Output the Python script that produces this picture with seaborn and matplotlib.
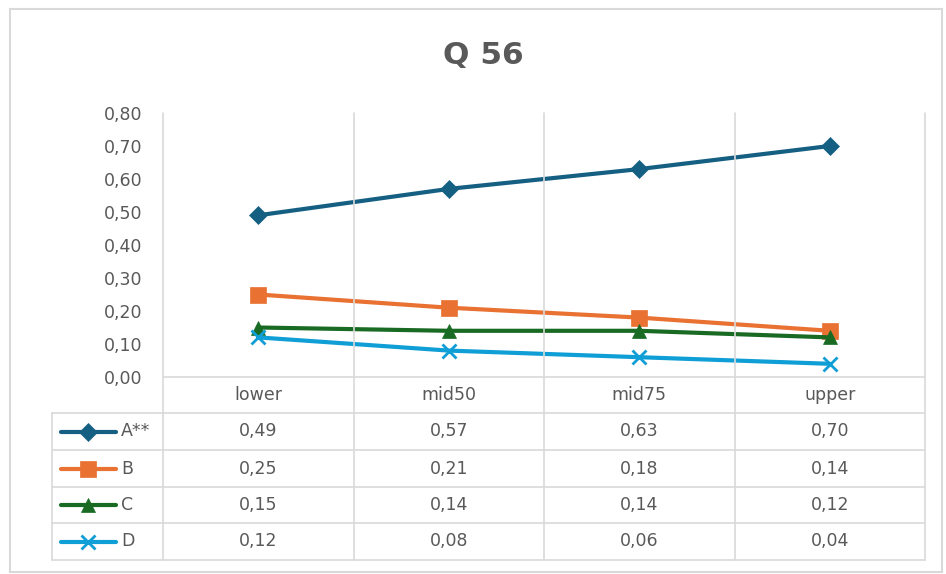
import matplotlib
matplotlib.use("Agg")
import matplotlib.pyplot as plt
import matplotlib.transforms as mtransforms
from matplotlib.lines import Line2D
from matplotlib.patches import Rectangle
import seaborn as sns
import pandas as pd

# ---- data ----
categories = ["lower", "mid50", "mid75", "upper"]
series_names = ["A**", "B", "C", "D"]
a_vals = [0.49, 0.57, 0.63, 0.70]
b_vals = [0.25, 0.21, 0.18, 0.14]
c_vals = [0.15, 0.14, 0.14, 0.12]
d_vals = [0.12, 0.08, 0.06, 0.04]
y_ticks = [0.0, 0.1, 0.2, 0.3, 0.4, 0.5, 0.6, 0.7, 0.8]
title = "Q 56"

all_vals = [a_vals, b_vals, c_vals, d_vals]
colors = ["#156082", "#E97132", "#196B24", "#0F9ED5"]
markers = ["D", "s", "^", "x"]
msizes = [9, 11, 10, 10]

rows = []
for name, vals in zip(series_names, all_vals):
    for cat, v in zip(categories, vals):
        rows.append({"cat": cat, "value": v, "series": name})
df = pd.DataFrame(rows)

sns.set_theme(style="white")
plt.rcParams["font.family"] = ["DejaVu Sans"]
TXT = "#595959"
GRID = "#D9D9D9"
FS = 12.5

W, H = 946, 574
fig = plt.figure(figsize=(W / 100, H / 100), dpi=100)
fig.patch.set_facecolor("white")

def fx(px):
    return px / W

def fy(py):
    return 1 - py / H

ax_left, ax_right, ax_top, ax_bot = 163, 925, 113, 377
ax = fig.add_axes([fx(ax_left), fy(ax_bot), (ax_right - ax_left) / W, (ax_bot - ax_top) / H])

sns.lineplot(data=df, x="cat", y="value", hue="series",
             palette=dict(zip(series_names, colors)),
             marker="o", linewidth=3, ax=ax, legend=False, sort=False)

for line, c, m, ms in zip(ax.lines, colors, markers, msizes):
    line.set_color(c)
    line.set_marker(m)
    line.set_markersize(ms)
    line.set_markerfacecolor(c)
    line.set_markeredgecolor(c)
    line.set_markeredgewidth(2 if m == "x" else 0.5)

ax.set_xlim(-0.5, len(categories) - 0.5)
ax.set_ylim(0, 0.8)
ax.set_yticks(y_ticks)
ax.set_yticklabels([f"{t:.2f}".replace(".", ",") for t in y_ticks], color=TXT, fontsize=FS)
ax.set_xticks([])
ax.set_xlabel("")
ax.set_ylabel("")
ax.tick_params(axis="y", length=0, pad=15)
for s in ax.spines.values():
    s.set_visible(False)
ax.grid(False)

# blended transform: x in data, y in figure
bt = mtransforms.blended_transform_factory(ax.transData, fig.transFigure)

# outer chart border
fig.add_artist(Rectangle((fx(10), fy(572)), (942 - 10) / W, (572 - 9) / H,
                         transform=fig.transFigure, fill=False, edgecolor=GRID, lw=1.5))

# title
fig.text(fx(483), fy(55), title, ha="center", va="center", fontsize=22.5,
         fontweight="bold", color=TXT)

table_top, table_bot = 413, 560
row_lines = [413, 450, 487, 523, 560]
n = len(categories)

# vertical lines (category boundaries) from plot top to table bottom
for i in range(n + 1):
    xb = i - 0.5
    fig.add_artist(Line2D([xb, xb], [fy(ax_top), fy(table_bot)], transform=bt,
                          color=GRID, lw=1.2))
# x axis line
fig.add_artist(Line2D([-0.5, n - 0.5], [fy(ax_bot), fy(ax_bot)], transform=bt, color=GRID, lw=1.2))
# table horizontal lines
for ry in row_lines:
    fig.add_artist(Line2D([fx(52), fx(ax_right)], [fy(ry), fy(ry)], transform=fig.transFigure,
                          color=GRID, lw=1.2))
# table left border
fig.add_artist(Line2D([fx(52), fx(52)], [fy(table_top), fy(table_bot)], transform=fig.transFigure,
                      color=GRID, lw=1.2))

# category labels
for i, cat in enumerate(categories):
    fig.text(i, fy(395), cat, transform=bt, ha="center", va="center", fontsize=FS, color=TXT)

# table rows
for r, (name, vals, c, m, ms) in enumerate(zip(series_names, all_vals, colors, markers, msizes)):
    cy = (row_lines[r] + row_lines[r + 1]) / 2
    fig.add_artist(Line2D([fx(61), fx(116)], [fy(cy), fy(cy)], transform=fig.transFigure,
                          color=c, lw=3))
    fig.add_artist(Line2D([fx(88)], [fy(cy)], transform=fig.transFigure, color=c, marker=m,
                          markersize=ms, markerfacecolor=c, markeredgecolor=c,
                          markeredgewidth=2 if m == "x" else 0.5, linestyle="none"))
    fig.text(fx(121), fy(cy), name, ha="left", va="center", fontsize=FS, color=TXT)
    for i, v in enumerate(vals):
        fig.text(i, fy(cy), f"{v:.2f}".replace(".", ","), transform=bt, ha="center",
                 va="center", fontsize=FS, color=TXT)

fig.savefig("out.png", dpi=100, facecolor="white")
